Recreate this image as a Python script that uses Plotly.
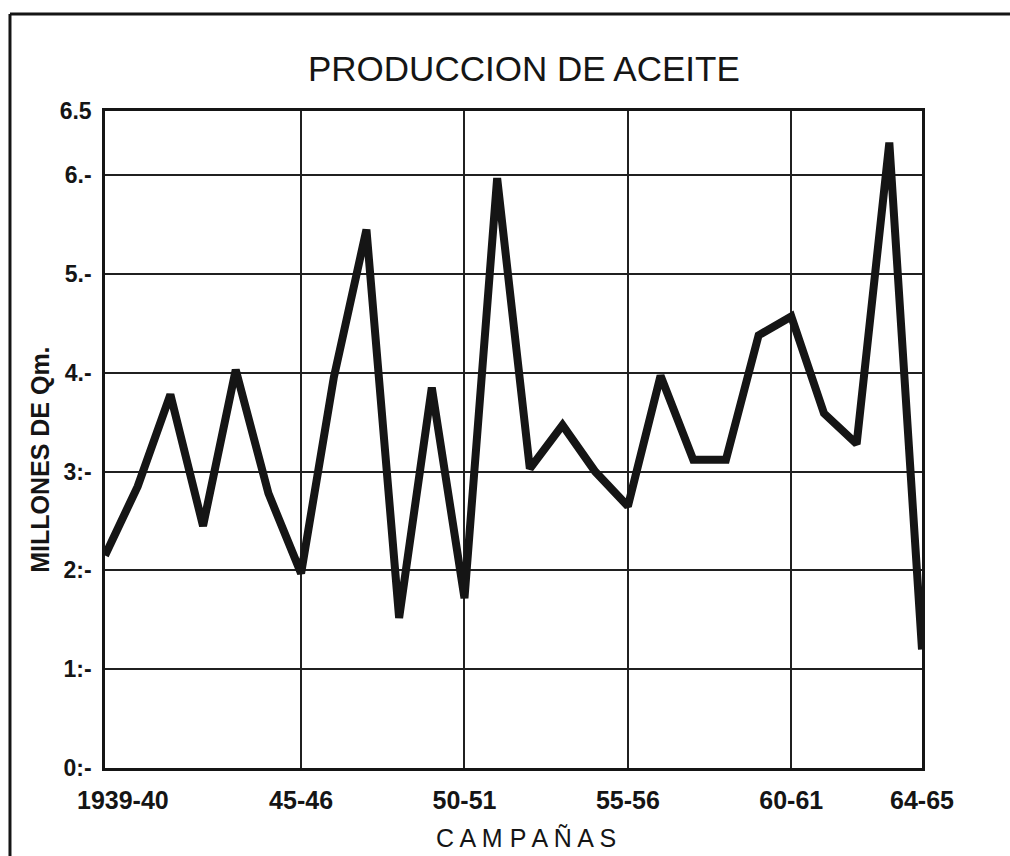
import plotly.graph_objects as go

# Data
years = list(range(1939, 1965))  # campaign start years 1939-40 ... 1964-65
production = [2.15, 2.85, 3.78, 2.45, 4.03, 2.78, 1.97, 3.95, 5.45, 1.52,
              3.85, 1.72, 5.97, 3.03, 3.47, 3.00, 2.65, 3.97, 3.12, 3.12,
              4.38, 4.57, 3.59, 3.28, 6.33, 1.20]

x_tickvals = [1939, 1945, 1950, 1955, 1960, 1964]
x_ticktext = ["1939-40", "45-46", "50-51", "55-56", "60-61", "64-65"]
y_tickvals = [0, 1, 2, 3, 4, 5, 6, 6.65]
y_ticktext = ["0:-", "1:-", "2:-", "3:-", "4.-", "5.-", "6.-", "6.5"]

FONT = "Liberation Sans"

fig = go.Figure()
fig.add_trace(go.Scatter(
    x=years, y=production, mode="lines",
    line=dict(color="#151515", width=8),
    showlegend=False, hoverinfo="skip",
))

fig.update_layout(
    width=1010, height=856,
    margin=dict(l=105, r=88, t=111, b=88),
    paper_bgcolor="white", plot_bgcolor="white",
    font=dict(family=FONT, color="#151515"),
    xaxis=dict(
        range=[1939, 1964], tickvals=x_tickvals,
        ticktext=[""] + x_ticktext[1:],
        showgrid=True, gridcolor="#202020", gridwidth=1.5,
        showline=True, linecolor="#151515", linewidth=2.5, mirror=True,
        ticks="", zeroline=False, ticklabelstandoff=8,
        tickfont=dict(family=FONT, size=25, color="#151515", weight="bold"),
    ),
    yaxis=dict(
        range=[0, 6.65], tickvals=y_tickvals, ticktext=y_ticktext,
        showgrid=True, gridcolor="#202020", gridwidth=1.5,
        showline=True, linecolor="#151515", linewidth=2.5, mirror=True,
        ticks="", zeroline=False, ticklabelstandoff=6,
        tickfont=dict(family=FONT, size=23, color="#151515", weight="bold"),
    ),
    annotations=[
        dict(text="PRODUCCION DE ACEITE", xref="paper", yref="paper",
             x=0.513, y=1.065, showarrow=False, xanchor="center", yanchor="middle",
             font=dict(family=FONT, size=35, color="#151515")),
        dict(text="MILLONES DE Qm.", xref="paper", yref="paper",
             x=-0.0796, y=0.469, textangle=-90, showarrow=False,
             xanchor="center", yanchor="middle",
             font=dict(family=FONT, size=25, color="#151515", weight="bold")),
        dict(text="C A M P A Ñ A S", xref="paper", yref="paper",
             x=0.515, y=-0.1065, showarrow=False, xanchor="center", yanchor="middle",
             font=dict(family=FONT, size=25, color="#151515")),
        dict(text=x_ticktext[0], xref="x", yref="paper",
             x=x_tickvals[0], y=-0.048, xshift=18, showarrow=False,
             xanchor="center", yanchor="middle",
             font=dict(family=FONT, size=25, color="#151515", weight="bold")),
    ],
    shapes=[
        dict(type="line", xref="paper", yref="paper",
             x0=-0.1163, x1=-0.1163, y0=-0.14, y1=1.1476,
             line=dict(color="#151515", width=3)),
        dict(type="line", xref="paper", yref="paper",
             x0=-0.1163, x1=1.1077, y0=1.1476, y1=1.1476,
             line=dict(color="#151515", width=3)),
    ],
)

fig.write_html("out.html", config={"displayModeBar": False},
               post_script="document.body.style.margin='0px';document.body.style.overflow='hidden';")
